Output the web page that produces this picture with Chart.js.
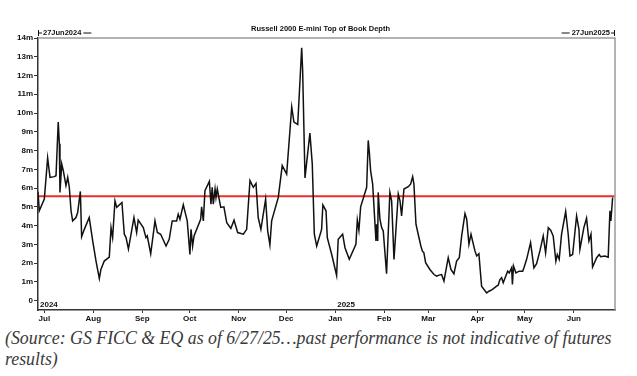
<!DOCTYPE html>
<html>
<head>
<meta charset="utf-8">
<script src="https://cdn.jsdelivr.net/npm/chart.js@4.4.1/dist/chart.umd.min.js"></script>
<style>
  body { margin: 0; background: #fff; width: 637px; height: 376px; overflow: hidden; position: relative; }
  #wrap { position: absolute; left: 0; top: 0; width: 637px; height: 326px; }
  #caption {
    position: absolute; left: 5px; top: 327px; width: 680px;
    font-family: "Liberation Serif", serif; font-style: italic; font-size: 19.5px;
    line-height: 21px; color: #3a3a3a;
    transform: scaleX(0.913); transform-origin: 0 0;
  }
</style>
</head>
<body>
<div id="wrap"><canvas id="depthChart" width="637" height="326"></canvas></div>
<div id="caption">(Source: GS FICC &amp; EQ as of 6/27/25…past performance is not indicative of futures<br>results)</div>
<script>
// days since 27 Jun 2024
const days = [0, 0.8, 4.0, 6.1, 7.6, 10.3, 11.4, 12.8, 13.5, 13.9, 15.0, 16.0, 17.7, 18.8, 19.8, 20.9, 21.9, 24.0, 25.1, 26.8,
  27.6, 29.3, 32.4, 34.6, 36.7, 38.8, 39.8, 41.9, 45.1, 46.2, 47.2, 48.7, 49.8, 53.1, 54.6, 55.7, 57.2, 60.7, 62.4, 63.4,
  66.6, 68.3, 69.1, 71.3, 74.0, 75.5, 77.6, 81.0, 83.0, 84.9, 87.7, 88.7, 89.8, 91.9, 94.4, 96.1, 96.8, 97.8, 98.7, 102.9,
  103.5, 104.6, 105.6, 108.4, 109.4, 110.2, 110.9, 112.0, 112.6, 113.4, 115.6, 117.6, 119.4, 122.0, 124.0, 126.3, 129.9, 132.0, 134.1, 136.2,
  137.9, 139.3, 141.0, 144.0, 145.3, 146.7, 147.8, 152.0, 154.5, 157.3, 160.5, 161.9, 164.3, 166.8, 167.4, 168.9, 172.0, 173.5, 174.8, 176.3,
  179.4, 180.2, 182.2, 183.0, 185.8, 188.9, 189.9, 192.7, 194.2, 196.9, 201.1, 202.0, 203.0, 204.1, 207.9, 208.9, 209.6, 210.4, 211.7, 213.8,
  214.2, 214.9, 215.2, 216.3, 217.4, 218.4, 220.5, 222.6, 223.7, 225.2, 227.9, 229.0, 230.0, 231.5, 234.2, 235.7, 237.0, 237.8, 239.1, 240.5,
  242.2, 243.1, 244.1, 245.2, 247.9, 250.5, 252.2, 253.6, 255.3, 256.8, 259.5, 261.2, 263.1, 264.8, 266.5, 268.0, 270.1, 271.2, 272.6, 273.9,
  276.4, 277.5, 278.9, 280.6, 283.8, 285.3, 287.3, 290.1, 291.1, 292.2, 293.3, 294.3, 297.1, 298.1, 299.6, 300.1, 300.8, 302.3, 304.4, 306.6,
  307.4, 309.1, 311.6, 313.7, 315.4, 317.5, 319.6, 321.1, 322.8, 324.3, 325.9, 327.6, 328.5, 329.7, 331.2, 333.8, 335.4, 336.5, 338.2, 340.7,
  342.2, 342.8, 345.3, 347.0, 348.5, 349.8, 350.8, 353.4, 355.0, 355.9, 358.6, 360.7, 361.8, 362.4, 363.5];

// top of book depth, millions of contracts
const depth = [5.8, 4.79, 5.41, 7.61, 6.57, 6.61, 6.66, 9.52, 8.36, 5.77, 7.29, 6.93, 6.13, 6.57, 6.04, 4.79, 4.25, 4.43, 4.70, 5.82,
  3.40, 3.80, 4.43, 3.18, 2.11, 1.18, 1.66, 2.11, 2.32, 3.89, 3.36, 5.32, 4.97, 5.23, 3.54, 3.36, 2.75, 4.43, 3.63, 4.29,
  3.89, 3.36, 3.45, 2.50, 4.25, 3.63, 3.54, 2.91, 3.27, 4.25, 4.25, 4.61, 4.34, 5.11, 4.25, 2.46, 3.80, 2.91, 3.45, 4.34,
  5.00, 4.25, 5.86, 6.36, 5.14, 6.04, 5.14, 5.95, 5.50, 5.95, 4.97, 5.00, 4.16, 3.85, 4.29, 3.63, 3.54, 3.80, 6.40, 6.04,
  6.25, 4.43, 3.80, 5.41, 3.72, 2.97, 4.25, 5.50, 7.20, 6.75, 10.32, 9.52, 9.39, 13.48, 12.29, 6.54, 8.93, 7.29, 3.54, 2.91,
  3.80, 5.10, 4.79, 3.36, 2.46, 1.34, 3.27, 3.54, 2.82, 2.20, 3.00, 4.29, 3.75, 5.00, 6.04, 8.54, 7.91, 6.93, 6.21, 3.18,
  4.07, 3.18, 5.77, 4.34, 3.89, 3.72, 1.43, 5.77, 5.32, 2.20, 5.68, 5.32, 4.52, 5.95, 6.07, 6.21, 6.61, 6.21, 4.07, 3.54,
  2.91, 2.65, 2.55, 2.02, 1.66, 1.39, 1.30, 1.36, 1.39, 1.04, 2.29, 1.66, 1.43, 2.11, 2.29, 3.45, 4.64, 4.34, 3.00, 3.54,
  2.65, 2.38, 2.50, 0.77, 0.41, 0.50, 0.59, 0.77, 0.82, 1.12, 1.22, 0.95, 1.57, 1.48, 1.75, 0.86, 1.84, 1.48, 1.57, 1.57,
  1.75, 2.20, 3.09, 1.75, 1.97, 2.65, 3.45, 2.55, 3.89, 3.75, 3.45, 2.11, 2.46, 2.20, 3.54, 4.75, 3.54, 2.38, 2.46, 4.52,
  3.80, 2.73, 3.89, 4.39, 3.18, 3.54, 1.79, 2.29, 2.46, 2.34, 2.38, 2.32, 4.79, 4.25, 5.50];

const averageDepth = 5.57;
const monthStarts = [4, 35, 66, 96, 127, 157, 188, 219, 247, 278, 308, 339];
const monthLabels = ['Jul', 'Aug', 'Sep', 'Oct', 'Nov', 'Dec', 'Jan', 'Feb', 'Mar', 'Apr', 'May', 'Jun'];
const yTicks = [0, 1, 2, 3, 4, 5, 6, 7, 8, 9, 10, 11, 12, 13, 14];
const startLabel = '27Jun2024';
const endLabel = '27Jun2025';
const yearMarks = [[0, '2024'], [188, '2025']];

const tickFont = { family: 'Liberation Sans', size: 8, weight: 'bold' };

// header, year marks and the grey frame
const decorations = {
    id: 'decorations',
    afterDraw(chart) {
        const { ctx, chartArea: a, scales } = chart;
        ctx.save();
        ctx.strokeStyle = '#9a9a9a';
        ctx.lineWidth = 1.5;
        ctx.beginPath();
        ctx.moveTo(a.left, a.top);
        ctx.lineTo(a.right, a.top);
        ctx.lineTo(a.right, a.bottom);
        ctx.stroke();

        ctx.fillStyle = '#111';
        ctx.strokeStyle = '#111';
        ctx.lineWidth = 1;
        ctx.font = 'bold 7.5px "Liberation Sans"';
        ctx.textBaseline = 'middle';
        const hy = a.top - 5;
        // left date
        ctx.beginPath();
        ctx.moveTo(a.left + 0.5, hy - 3); ctx.lineTo(a.left + 0.5, hy + 3);
        ctx.moveTo(a.left, hy); ctx.lineTo(a.left + 4, hy);
        let w = ctx.measureText(startLabel).width;
        ctx.moveTo(a.left + 6 + w + 1, hy); ctx.lineTo(a.left + 6 + w + 9, hy);
        ctx.stroke();
        ctx.textAlign = 'left';
        ctx.fillText(startLabel, a.left + 5, hy);
        // right date
        w = ctx.measureText(endLabel).width;
        ctx.beginPath();
        ctx.moveTo(a.right - 0.5, hy - 3); ctx.lineTo(a.right - 0.5, hy + 3);
        ctx.moveTo(a.right, hy); ctx.lineTo(a.right - 4, hy);
        ctx.moveTo(a.right - 6 - w - 1, hy); ctx.lineTo(a.right - 6 - w - 9, hy);
        ctx.stroke();
        ctx.textAlign = 'right';
        ctx.fillText(endLabel, a.right - 5, hy);
        // title
        ctx.textAlign = 'center';
        ctx.font = 'bold 7.5px "Liberation Sans"';
        ctx.fillText('Russell 2000 E-mini Top of Book Depth', (a.left + a.right) / 2 - 6, a.top - 9);
        // year marks
        ctx.textAlign = 'left';
        ctx.font = 'bold 8px "Liberation Sans"';
        yearMarks.forEach(([d, t]) => {
            ctx.fillText(t, scales.x.getPixelForValue(d) + 2, a.bottom - 5);
        });
        ctx.restore();
    }
};

const ctx = document.getElementById('depthChart').getContext('2d');

const depthChart = new Chart(ctx, {
    type: 'line',
    data: {
        datasets: [{
            label: 'Top of Book Depth',
            data: days.map((d, i) => ({ x: d, y: depth[i] })),
            borderColor: '#111',
            borderWidth: 1.5,
            pointRadius: 0,
            tension: 0,
            order: 1
        }, {
            label: 'Average',
            data: [{ x: 0, y: averageDepth }, { x: 365, y: averageDepth }],
            borderColor: '#e8302a',
            borderWidth: 2,
            pointRadius: 0,
            order: 2
        }]
    },
    options: {
        responsive: false,
        animation: false,
        layout: { padding: { top: 38, right: 22, left: 0, bottom: 0 } },
        plugins: { legend: { display: false }, tooltip: { enabled: false } },
        scales: {
            x: {
                type: 'linear',
                min: 0,
                max: 365,
                afterBuildTicks: axis => { axis.ticks = monthStarts.map(v => ({ value: v })); },
                afterFit: axis => { axis.height = 16; },
                ticks: {
                    autoSkip: false,
                    maxRotation: 0,
                    padding: 1,
                    color: '#111',
                    font: tickFont,
                    callback: v => monthLabels[monthStarts.indexOf(v)]
                },
                grid: { drawOnChartArea: false, tickLength: 3, color: '#333' },
                border: { color: '#333', width: 1.5 }
            },
            y: {
                min: -0.5,
                max: 14,
                afterBuildTicks: axis => { axis.ticks = yTicks.map(v => ({ value: v })); },
                afterFit: axis => { axis.width = 38; },
                ticks: {
                    padding: 1,
                    color: '#111',
                    font: tickFont,
                    callback: v => v === 0 ? '0' : v + 'm'
                },
                grid: { drawOnChartArea: false, tickLength: 4, color: '#333' },
                border: { color: '#333', width: 1.5 }
            }
        }
    },
    plugins: [decorations]
});
</script>
</body>
</html>
